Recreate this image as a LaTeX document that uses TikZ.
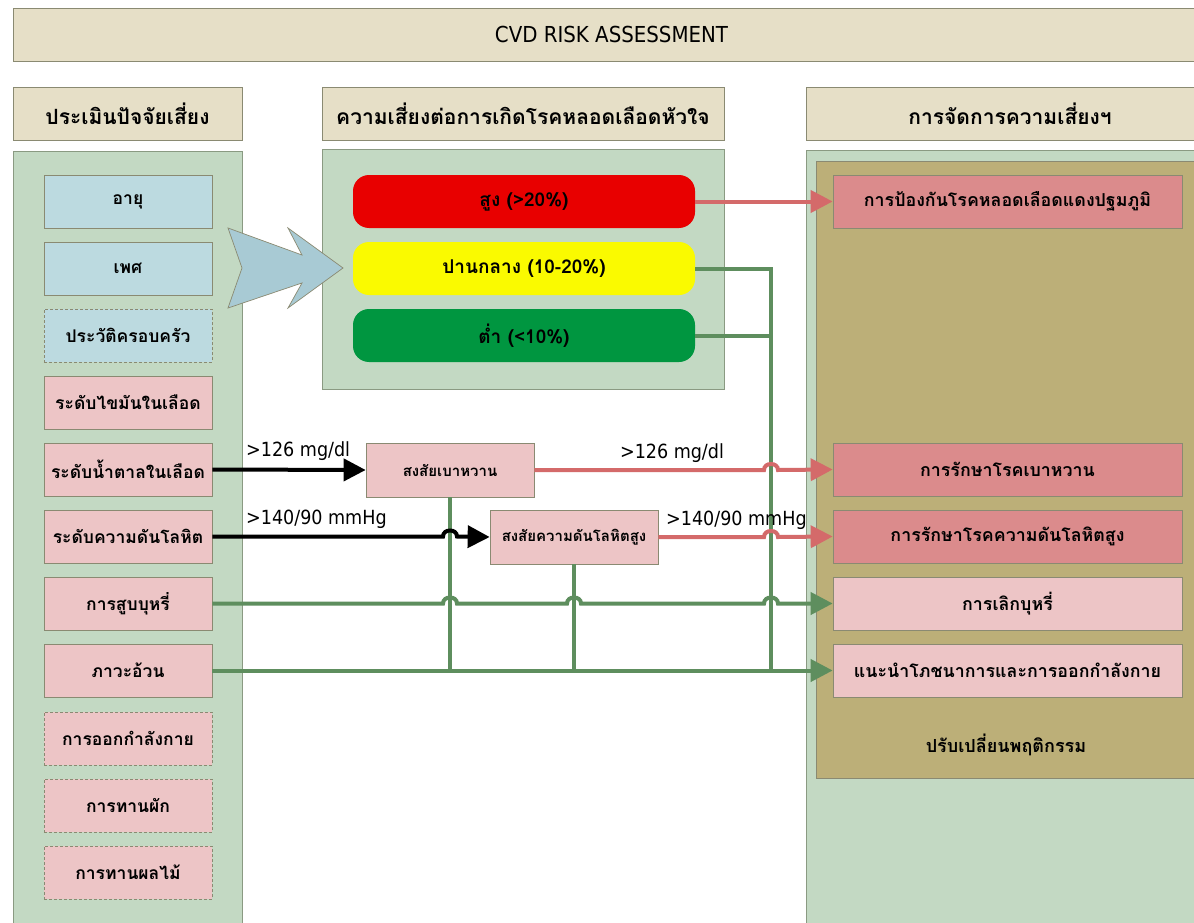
\documentclass[tikz,border=0pt]{standalone}
\usepackage{fontspec}
\setmainfont[Script=Thai]{Loma}
\newfontfamily\latinfont{DejaVu Sans Condensed}
\usetikzlibrary{arrows.meta}

\definecolor{hdrfill}{HTML}{E6DFC7}
\definecolor{hdrline}{HTML}{8A8A72}
\definecolor{panelfill}{HTML}{C3D9C3}
\definecolor{panelline}{HTML}{8A9A82}
\definecolor{bluebox}{HTML}{BCDAE0}
\definecolor{pinkbox}{HTML}{EDC5C6}
\definecolor{rosebox}{HTML}{DB8B8C}
\definecolor{olivefill}{HTML}{BCAF78}
\definecolor{riskred}{HTML}{E80000}
\definecolor{riskyel}{HTML}{FAFA00}
\definecolor{riskgrn}{HTML}{009640}
\definecolor{linkgrn}{HTML}{5E8E5E}
\definecolor{linkred}{HTML}{D46A6A}
\definecolor{arrowblue}{HTML}{A8CAD4}

\tikzset{
  hdr/.style={draw=hdrline, fill=hdrfill, line width=0.8pt, inner sep=0pt,
    minimum height=53pt, font=\fontsize{21}{25}\selectfont\bfseries},
  panel/.style={draw=panelline, fill=panelfill, line width=0.8pt, inner sep=0pt},
  factor/.style={draw=hdrline, line width=0.7pt, inner sep=0pt,
    minimum width=168pt, minimum height=53pt, font=\fontsize{17.5}{21}\selectfont\bfseries},
  bluefac/.style={factor, fill=bluebox},
  pinkfac/.style={factor, fill=pinkbox},
  optional/.style={dashed, dash pattern=on 3pt off 2pt},
  riskbox/.style={rounded corners=16pt, inner sep=0pt, minimum width=342pt,
    minimum height=53pt, font=\fontsize{19}{23}\selectfont\bfseries},
  suspect/.style={draw=hdrline, fill=pinkbox, line width=0.7pt, inner sep=0pt,
    minimum width=168pt, minimum height=54pt, font=\fontsize{15}{18}\selectfont\bfseries},
  action/.style={draw=hdrline, line width=0.7pt, inner sep=0pt,
    minimum width=349pt, minimum height=53pt, font=\fontsize{17.8}{21}\selectfont\bfseries},
  lbl/.style={inner sep=0pt, font=\fontsize{18}{21}\selectfont\bfseries},
  thr/.style={inner sep=0pt, font=\latinfont\fontsize{19.5}{23}\selectfont},
  tip/.style={-{Triangle[length=22pt,width=22pt]}},
  blklink/.style={line width=4pt, draw=black, tip},
  redlink/.style={line width=4pt, draw=linkred, tip},
  grnlink/.style={line width=4pt, draw=linkgrn},
}

\begin{document}
\begin{tikzpicture}[x=1pt,y=-1pt]
\clip (0,0) rectangle (1194,923);
\fill[white] (0,0) rectangle (1194,923);

% title and column headers
\node[hdr, minimum width=1197pt, font=\latinfont\fontsize{22}{26}\selectfont] (title) at (611.5,34.5) {CVD RISK ASSESSMENT};
\node[hdr, minimum width=229pt] (h1) at (127.5,113.5) {ประเมินปัจจัยเสี่ยง};
\node[hdr, minimum width=402pt] (h2) at (523,113.5) {ความเสี่ยงต่อการเกิดโรคหลอดเลือดหัวใจ};
\node[hdr, minimum width=408pt] (h3) at (1010,113.5) {การจัดการความเสี่ยงฯ};

% column panels
\node[panel, minimum width=229pt, minimum height=790pt] (lp) at (127.5,546) {};
\node[panel, minimum width=402pt, minimum height=240pt] (mp) at (523,269) {};
\node[panel, minimum width=408pt, minimum height=790pt] (rp) at (1010,545) {};
\node[draw=hdrline, fill=olivefill, line width=0.8pt, inner sep=0pt,
  minimum width=400pt, minimum height=617pt] (ol) at (1016,469.5) {};
\node[lbl] (olbl) at (1006,745) {ปรับเปลี่ยนพฤติกรรม};

% risk factors
\node[bluefac] (age) at (128,201.5) {อายุ};
\node[bluefac] (sex) at (128,268.5) {เพศ};
\node[bluefac, optional] (fam) at (128,335.5) {ประวัติครอบครัว};
\node[pinkfac] (lip) at (128,402.5) {ระดับไขมันในเลือด};
\node[pinkfac] (glu) at (128,469.5) {ระดับน้ำตาลในเลือด};
\node[pinkfac] (bp) at (128,536.5) {ระดับความดันโลหิต};
\node[pinkfac] (smk) at (128,603.5) {การสูบบุหรี่};
\node[pinkfac] (obs) at (128,670.5) {ภาวะอ้วน};
\node[pinkfac, optional] (exe) at (128,738.5) {การออกกำลังกาย};
\node[pinkfac, optional] (veg) at (128,805.5) {การทานผัก};
\node[pinkfac, optional] (fru) at (128,872.5) {การทานผลไม้};

% block arrow into the risk levels
\filldraw[fill=arrowblue, draw=hdrline, line width=0.7pt]
  (228,228) -- (302,255) -- (288,228) -- (343,268) -- (288,308)
  -- (302,283) -- (228,308) -- (242,268) -- cycle;

% risk levels
\node[riskbox, fill=riskred] (high) at (524,201.5) {สูง (>20\%)};
\node[riskbox, fill=riskyel] (mid) at (524,268.5) {ปานกลาง (10-20\%)};
\node[riskbox, fill=riskgrn] (low) at (524,335.5) {ต่ำ (<10\%)};

% suspected conditions
\node[suspect] (dm) at (450,470) {สงสัยเบาหวาน};
\node[suspect] (hbp) at (574,537) {สงสัยความดันโลหิตสูง};

% management actions
\node[action, fill=rosebox] (prev) at (1007.5,201.5) {การป้องกันโรคหลอดเลือดแดงปฐมภูมิ};
\node[action, fill=rosebox] (tdm) at (1007.5,469.5) {การรักษาโรคเบาหวาน};
\node[action, fill=rosebox] (thbp) at (1007.5,536.5) {การรักษาโรคความดันโลหิตสูง};
\node[action, fill=pinkbox] (quit) at (1007.5,603.5) {การเลิกบุหรี่};
\node[action, fill=pinkbox] (diet) at (1007.5,670.5) {แนะนำโภชนาการและการออกกำลังกาย};

% vertical collector for moderate and low risk
\coordinate (bus) at (771,268.5);

% green lifestyle links
\draw[grnlink] (dm.south) -- (dm.south |- obs.east);
\draw[grnlink] (hbp.south) -- (hbp.south |- obs.east);
\draw[grnlink] (mid.east) -- (bus) -- (bus |- obs.east);
\draw[grnlink] (low.east) -- (bus |- low.east);
\draw[grnlink, tip] (obs.east) -- (diet.west);
\draw[grnlink, tip] (smk.east)
  -- ([xshift=-7pt]dm.south |- smk.east) .. controls +(0,-8) and +(0,-8) .. ([xshift=7pt]dm.south |- smk.east)
  -- ([xshift=-7pt]hbp.south |- smk.east) .. controls +(0,-8) and +(0,-8) .. ([xshift=7pt]hbp.south |- smk.east)
  -- ([xshift=-7pt]bus |- smk.east) .. controls +(0,-8) and +(0,-8) .. ([xshift=7pt]bus |- smk.east)
  -- (quit.west);

% screening thresholds
\draw[blklink] (glu.east) -- (dm.west);
\draw[blklink] (bp.east)
  -- ([xshift=-7pt]dm.south |- bp.east) .. controls +(0,-8) and +(0,-8) .. ([xshift=7pt]dm.south |- bp.east)
  -- (hbp.west);
\node[thr, anchor=west] (l1) at (246,451) {>126 mg/dl};
\node[thr, anchor=west] (l2) at (246,519) {>140/90 mmHg};

% treatment links
\draw[redlink] (high.east) -- (prev.west);
\draw[redlink] (dm.east)
  -- ([xshift=-7pt]bus |- dm.east) .. controls +(0,-8) and +(0,-8) .. ([xshift=7pt]bus |- dm.east)
  -- (tdm.west);
\draw[redlink] (hbp.east)
  -- ([xshift=-7pt]bus |- hbp.east) .. controls +(0,-8) and +(0,-8) .. ([xshift=7pt]bus |- hbp.east)
  -- (thbp.west);
\node[thr] (l3) at (672,453) {>126 mg/dl};
\node[thr, anchor=west] (l4) at (666,520) {>140/90 mmHg};
\end{tikzpicture}
\end{document}
